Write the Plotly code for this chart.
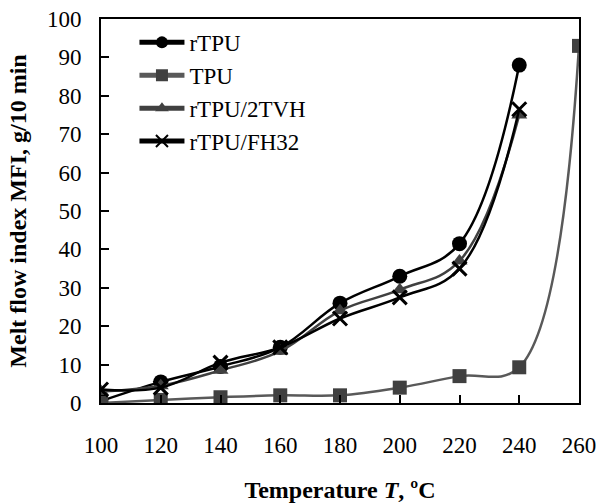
import plotly.graph_objects as go

temps = [100, 120, 140, 160, 180, 200, 220, 240]
temps_tpu = [100, 120, 140, 160, 180, 200, 220, 240, 260]
rtpu = [0.5, 5.5, 9.5, 14.5, 26.0, 33.0, 41.5, 88.0]
tpu = [0.0, 0.8, 1.5, 2.0, 2.0, 4.0, 7.0, 9.3, 93.0]
rtpu_2tvh = [3.0, 4.5, 8.5, 13.5, 24.0, 29.5, 37.0, 75.0]
rtpu_fh32 = [3.5, 4.0, 10.5, 14.5, 22.0, 27.5, 35.0, 76.5]

xticks = [100, 120, 140, 160, 180, 200, 220, 240, 260]
yticks = [0, 10, 20, 30, 40, 50, 60, 70, 80, 90, 100]

FONT = "Liberation Serif, Times New Roman, serif"
SM = 1.1

fig = go.Figure()
fig.add_trace(go.Scatter(x=temps, y=rtpu, name="rTPU", mode="lines+markers",
                         line=dict(color="black", width=2.5, shape="spline", smoothing=SM),
                         marker=dict(symbol="circle", size=15, color="black")))
fig.add_trace(go.Scatter(x=temps_tpu, y=tpu, name="TPU", mode="lines+markers",
                         line=dict(color="#595959", width=2.5, shape="spline", smoothing=SM),
                         marker=dict(symbol="square", size=14, color="#404040")))
fig.add_trace(go.Scatter(x=temps, y=rtpu_2tvh, name="rTPU/2TVH", mode="lines+markers",
                         line=dict(color="#404040", width=2.5, shape="spline", smoothing=SM),
                         marker=dict(symbol="triangle-up", size=14, color="#404040")))
fig.add_trace(go.Scatter(x=temps, y=rtpu_fh32, name="rTPU/FH32", mode="lines+markers",
                         line=dict(color="black", width=2.5, shape="spline", smoothing=SM),
                         marker=dict(symbol="x-thin-open", size=14, color="black",
                                     line=dict(color="black", width=3))))

fig.update_layout(
    width=598, height=503,
    margin=dict(l=101, r=19, t=19, b=100),
    paper_bgcolor="white", plot_bgcolor="white",
    font=dict(family=FONT, size=23, color="black"),
    showlegend=True,
    legend=dict(x=0.07, y=0.995, xanchor="left", yanchor="top",
                bgcolor="rgba(0,0,0,0)", font=dict(size=23), tracegroupgap=0,
                itemsizing="constant", itemwidth=45),
)
fig.update_xaxes(range=[100, 260], tickvals=xticks, ticks="inside", ticklen=8, tickwidth=2,
                 tickcolor="black", showline=True, linecolor="black", linewidth=2, mirror=True,
                 showgrid=False, zeroline=False, ticklabelstandoff=20, automargin=False,
                 tickfont=dict(size=23, family=FONT),
                 title=dict(text="<b>Temperature <i>T</i>, ºC</b>", font=dict(size=24, family=FONT), standoff=30))
fig.update_yaxes(range=[0, 100], tickvals=yticks, ticks="inside", ticklen=8, tickwidth=2,
                 tickcolor="black", showline=True, linecolor="black", linewidth=2, mirror=True,
                 showgrid=False, zeroline=False, ticklabelstandoff=13, automargin=False,
                 tickfont=dict(size=23, family=FONT),
                 title=dict(text="<b>Melt flow index MFI, g/10 min</b>", font=dict(size=24, family=FONT), standoff=14))

fig.write_html("out.html")
